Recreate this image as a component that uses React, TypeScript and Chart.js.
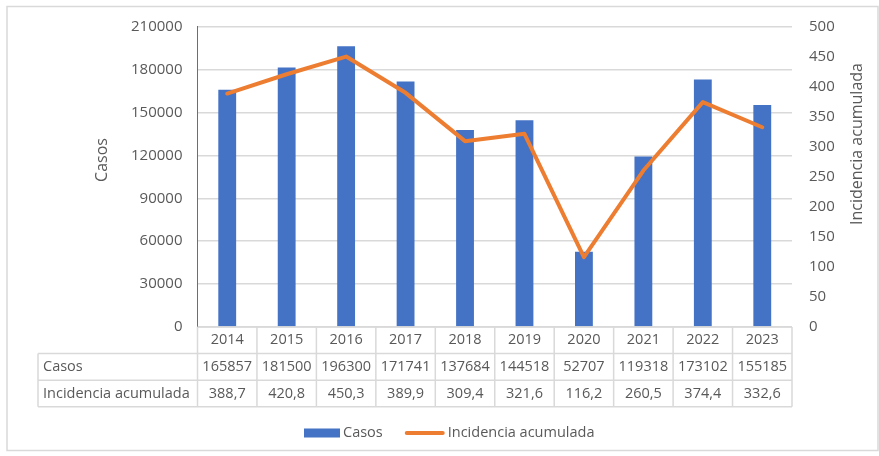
import React, { useEffect, useRef } from "react";
import { Chart, registerables } from "chart.js";

Chart.register(...registerables);

const years = ["2014", "2015", "2016", "2017", "2018", "2019", "2020", "2021", "2022", "2023"];
const casos = [165857, 181500, 196300, 171741, 137684, 144518, 52707, 119318, 173102, 155185];
const incidencia = [388.7, 420.8, 450.3, 389.9, 309.4, 321.6, 116.2, 260.5, 374.4, 332.6];
const casosLabel = "Casos";
const incidenciaLabel = "Incidencia acumulada";
const leftTicks = { min: 0, max: 210000, step: 30000 };
const rightTicks = { min: 0, max: 500, step: 50 };

const FONT = "'Open Sans', 'Noto Sans', sans-serif";
const TEXT = "#595959";
const GRID = "#d9d9d9";
const BLUE = "#4472C4";
const ORANGE = "#ED7D31";

const fmtInc = (v: number) => v.toFixed(1).replace(".", ",");

const tablePlugin = {
  id: "tablePlugin",
  beforeDraw(chart: any) {
    const ctx = chart.ctx;
    ctx.save();
    ctx.strokeStyle = GRID;
    ctx.lineWidth = 1.5;
    ctx.strokeRect(7, 6.5, 871, 444);
    ctx.restore();
  },
  afterDraw(chart: any) {
    const ctx = chart.ctx;
    const area = chart.chartArea;
    const xs = area.left;
    const xe = area.right;
    const n = years.length;
    const cw = (xe - xs) / n;
    const y0 = area.bottom;
    const rh = 26.6;
    const y1 = y0 + rh;
    const y2 = y1 + rh;
    const y3 = y2 + rh;
    const labelX = 38;
    ctx.save();
    ctx.strokeStyle = GRID;
    ctx.lineWidth = 1.5;
    ctx.beginPath();
    ctx.moveTo(xs, y0);
    ctx.lineTo(xe, y0);
    [y1, y2, y3].forEach((y) => {
      ctx.moveTo(labelX, y);
      ctx.lineTo(xe, y);
    });
    for (let i = 0; i <= n; i++) {
      const x = xs + i * cw;
      ctx.moveTo(x, y0);
      ctx.lineTo(x, y3);
    }
    ctx.moveTo(labelX, y1);
    ctx.lineTo(labelX, y3);
    ctx.stroke();

    ctx.fillStyle = TEXT;
    ctx.font = `14.5px ${FONT}`;
    ctx.textBaseline = "middle";
    ctx.textAlign = "center";
    const xScale = chart.scales.x;
    years.forEach((yr, i) => {
      const cx = xScale.getPixelForValue(i);
      ctx.fillText(yr, cx, (y0 + y1) / 2);
      ctx.fillText(String(casos[i]), cx, (y1 + y2) / 2);
      ctx.fillText(fmtInc(incidencia[i]), cx, (y2 + y3) / 2);
    });
    ctx.textAlign = "left";
    ctx.fillText(casosLabel, labelX + 5, (y1 + y2) / 2);
    ctx.fillText(incidenciaLabel, labelX + 5, (y2 + y3) / 2);

    // legend
    const ly = 433;
    let lx = 304;
    ctx.fillStyle = BLUE;
    ctx.fillRect(lx, ly - 4.5, 36, 9);
    lx += 39;
    ctx.fillStyle = TEXT;
    ctx.fillText(casosLabel, lx, ly);
    lx += ctx.measureText(casosLabel).width + 22;
    ctx.strokeStyle = ORANGE;
    ctx.lineWidth = 4;
    ctx.lineCap = "round";
    ctx.beginPath();
    ctx.moveTo(lx + 2, ly);
    ctx.lineTo(lx + 38, ly);
    ctx.stroke();
    lx += 43;
    ctx.fillText(incidenciaLabel, lx, ly);

    // axis titles
    ctx.font = `16px ${FONT}`;
    ctx.textAlign = "center";
    ctx.save();
    ctx.translate(102, 160);
    ctx.rotate(-Math.PI / 2);
    ctx.fillText(casosLabel, 0, 0);
    ctx.restore();
    ctx.save();
    ctx.translate(857, 144);
    ctx.rotate(-Math.PI / 2);
    ctx.fillText(incidenciaLabel, 0, 0);
    ctx.restore();
    ctx.restore();
  },
};

export default function App() {
  const ref = useRef<HTMLCanvasElement | null>(null);
  useEffect(() => {
    if (!ref.current) return;
    const chart = new Chart(ref.current, {
      type: "bar",
      data: {
        labels: years,
        datasets: [
          {
            type: "line",
            label: incidenciaLabel,
            data: incidencia,
            yAxisID: "y1",
            borderColor: ORANGE,
            backgroundColor: ORANGE,
            borderWidth: 4,
            pointRadius: 0,
            tension: 0,
            borderCapStyle: "round",
            borderJoinStyle: "round",
            order: 0,
          } as any,
          {
            type: "bar",
            label: casosLabel,
            data: casos,
            yAxisID: "y",
            backgroundColor: BLUE,
            barPercentage: 0.3,
            categoryPercentage: 1,
            order: 1,
          },
        ],
      },
      options: {
        responsive: true,
        maintainAspectRatio: false,
        animation: false,
        layout: { padding: { top: 26.7, bottom: 129, left: 0, right: 0 } },
        plugins: { legend: { display: false }, tooltip: { enabled: false } },
        scales: {
          x: { display: false, offset: true },
          y: {
            position: "left",
            min: leftTicks.min,
            max: leftTicks.max,
            ticks: {
              stepSize: leftTicks.step,
              color: TEXT,
              font: { family: FONT, size: 15 },
              padding: 15,
              callback: (v: any) => String(v),
            },
            grid: { color: GRID, lineWidth: 1.5, drawTicks: false },
            border: { color: BLUE, width: 1 },
            afterFit: (s: any) => {
              s.width = 197.5;
            },
          },
          y1: {
            position: "right",
            min: rightTicks.min,
            max: rightTicks.max,
            ticks: {
              stepSize: rightTicks.step,
              color: TEXT,
              font: { family: FONT, size: 15 },
              padding: 17,
              callback: (v: any) => String(v),
            },
            grid: { display: false, drawTicks: false },
            border: { display: false },
            afterFit: (s: any) => {
              s.width = 87;
            },
          },
        },
      },
      plugins: [tablePlugin],
    });
    return () => chart.destroy();
  }, []);
  return (
    <div style={{ position: "fixed", left: 0, top: 0, width: 879, height: 456, background: "#fff" }}>
      <canvas ref={ref} />
    </div>
  );
}
